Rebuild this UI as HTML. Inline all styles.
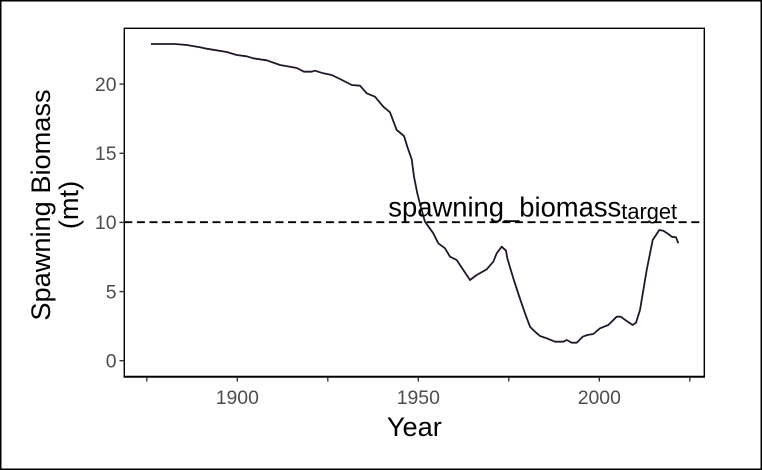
<!DOCTYPE html>
<html><head><meta charset="utf-8">
<style>
html,body{margin:0;padding:0;background:#fff;}
svg{display:block;}
</style></head>
<body>
<svg width="762" height="470" viewBox="0 0 762 470" xmlns="http://www.w3.org/2000/svg" font-family="Liberation Sans, Arial, sans-serif">
<rect x="0" y="0" width="762" height="470" fill="#fff"/>
<rect x="0.75" y="0.75" width="760.5" height="468.5" fill="none" stroke="#000" stroke-width="1.5"/>
<!-- panel border -->
<rect x="124.3" y="28.3" width="580" height="348.4" fill="none" stroke="#000" stroke-width="1.4"/>
<line x1="123.6" y1="376.7" x2="705" y2="376.7" stroke="#000" stroke-width="2"/>
<!-- dashed target -->
<line x1="124.3" y1="222.2" x2="704.3" y2="222.2" stroke="#000" stroke-width="1.9" stroke-dasharray="8,4.6"/>
<!-- series -->
<polyline fill="none" stroke="#22172a" stroke-width="1.8" stroke-linejoin="round" points="151,44 175,44 186.7,45 200,47.3 206.7,48.7 226.7,52 236.7,55 246.7,56.3 253.3,58.3 266.7,60.3 280,65 290,66.7 296.7,68 304,71.7 311.7,71.7 315,70.7 323.3,73.3 331.7,75 340,79 351.7,85 360,85.7 366.7,93.3 375,96.7 383.3,106.7 390,112.3 396.7,130 404,136 407.3,146.7 411.7,159.3 414,176.7 417.3,193.3 420.7,206.7 425,221.7 433.3,233.3 438.3,243.3 445,248.3 450,256.7 456.7,260 463.3,270 470,280 476.7,275 486.7,269.3 493.3,261.7 496.7,253.3 501.7,246.7 506,250.7 507.3,258.3 513.3,278.3 519.3,296.7 525,313.3 530,326.7 535,331.7 540,336 546.7,338.3 555,341.7 563.3,341.7 566.7,340 571.7,342.7 576.7,342.7 582.7,336.7 587.3,335 593.3,334 600,328.3 608.3,325 616.7,316.7 620.7,316.7 626.7,321 632.7,325 636,322.7 640,310 646.7,270 652.7,240 659.3,230 663.3,230.7 668.3,234 671.7,236.7 676,237.3 678.3,243.3"/>
<!-- annotation -->
<text x="388.3" y="216.7" font-size="27.4" fill="#000">spawning_biomass<tspan font-size="21.8" dy="2.5">target</tspan></text>
<!-- y ticks -->
<g stroke="#333" stroke-width="1.4">
<line x1="119.5" y1="360.7" x2="124.3" y2="360.7"/>
<line x1="119.5" y1="291.6" x2="124.3" y2="291.6"/>
<line x1="119.5" y1="222.4" x2="124.3" y2="222.4"/>
<line x1="119.5" y1="153.3" x2="124.3" y2="153.3"/>
<line x1="119.5" y1="84.1" x2="124.3" y2="84.1"/>
</g>
<g font-size="19.4" fill="#4d4d4d" text-anchor="end">
<text x="116.5" y="367.5">0</text>
<text x="116.5" y="298.4">5</text>
<text x="116.5" y="229.2">10</text>
<text x="116.5" y="160.1">15</text>
<text x="116.5" y="90.9">20</text>
</g>
<!-- x ticks -->
<g stroke="#333" stroke-width="1.4">
<line x1="146.8" y1="377" x2="146.8" y2="381.5"/>
<line x1="237.3" y1="377" x2="237.3" y2="381.5"/>
<line x1="327.8" y1="377" x2="327.8" y2="381.5"/>
<line x1="418.3" y1="377" x2="418.3" y2="381.5"/>
<line x1="508.8" y1="377" x2="508.8" y2="381.5"/>
<line x1="599.3" y1="377" x2="599.3" y2="381.5"/>
<line x1="689.8" y1="377" x2="689.8" y2="381.5"/>
</g>
<g font-size="19.4" fill="#4d4d4d" text-anchor="middle">
<text x="237.3" y="404">1900</text>
<text x="418.3" y="404">1950</text>
<text x="599.3" y="404">2000</text>
</g>
<!-- titles -->
<text x="414.3" y="436" font-size="27.2" fill="#000" text-anchor="middle">Year</text>
<g transform="translate(0,205) rotate(-90)" font-size="27.2" fill="#000" text-anchor="middle">
<text x="0" y="50">Spawning Biomass</text>
<text x="0" y="78">(mt)</text>
</g>
</svg>
</body></html>
